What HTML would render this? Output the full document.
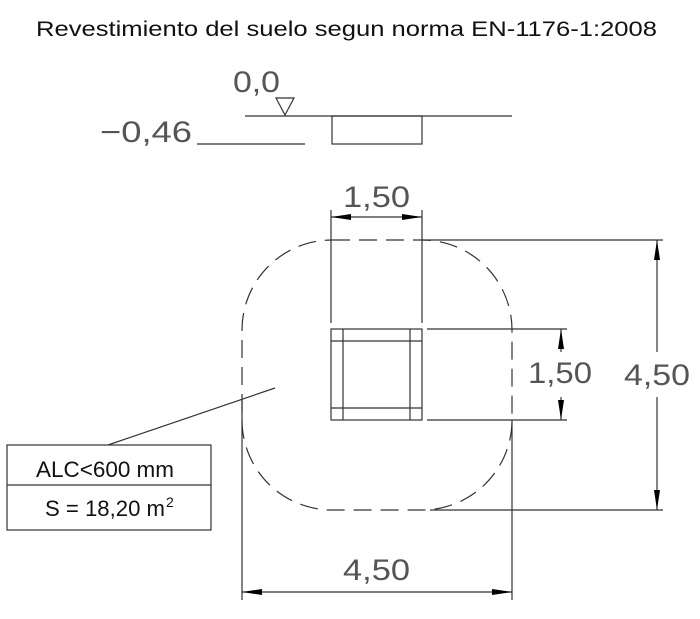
<!DOCTYPE html>
<html><head><meta charset="utf-8"><style>html,body{margin:0;padding:0;background:#fff}svg{display:block}</style></head>
<body>
<svg width="700" height="619" viewBox="0 0 700 619" xmlns="http://www.w3.org/2000/svg">
<defs>
<marker id="a" viewBox="0 0 20 6" refX="20" refY="3" markerWidth="20" markerHeight="6" markerUnits="userSpaceOnUse" orient="auto"><path d="M0,0 L20,3 L0,6 z" fill="#000"/></marker>
</defs>
<g font-family="Liberation Sans, sans-serif">
<text x="36" y="36" font-size="21" fill="#111" textLength="621" lengthAdjust="spacingAndGlyphs">Revestimiento del suelo segun norma EN-1176-1:2008</text>
</g>
<g fill="none" stroke="#333" stroke-width="1.2">
<line x1="245" y1="116" x2="512" y2="116"/>
<rect x="332" y="116" width="90" height="28"/>
<line x1="197" y1="144" x2="305" y2="144"/>
<path d="M276,98 L294,98 L285,115 Z"/>
<rect x="242" y="240" width="270" height="270" rx="90" ry="90" stroke-dasharray="18,9"/>
<rect x="331" y="329" width="91" height="91"/>
<line x1="343" y1="329" x2="343" y2="420"/>
<line x1="410" y1="329" x2="410" y2="420"/>
<line x1="331" y1="341" x2="422" y2="341"/>
<line x1="331" y1="408" x2="422" y2="408"/>
<line x1="331" y1="210" x2="331" y2="323"/>
<line x1="422" y1="210" x2="422" y2="323"/>
<line x1="376" y1="217" x2="331" y2="217" marker-end="url(#a)"/>
<line x1="376" y1="217" x2="422" y2="217" marker-end="url(#a)"/>
<line x1="422" y1="240" x2="663" y2="240"/>
<line x1="430" y1="510" x2="663" y2="510"/>
<line x1="657" y1="352" x2="657" y2="240" marker-end="url(#a)"/>
<line x1="657" y1="397" x2="657" y2="510" marker-end="url(#a)"/>
<line x1="427" y1="329" x2="567" y2="329"/>
<line x1="427" y1="420" x2="567" y2="420"/>
<line x1="561" y1="352" x2="561" y2="329" marker-end="url(#a)"/>
<line x1="561" y1="397" x2="561" y2="420" marker-end="url(#a)"/>
<line x1="242" y1="400" x2="242" y2="600"/>
<line x1="512" y1="420" x2="512" y2="600"/>
<line x1="377" y1="592" x2="242" y2="592" marker-end="url(#a)"/>
<line x1="377" y1="592" x2="512" y2="592" marker-end="url(#a)"/>
<line x1="108" y1="445" x2="275" y2="388"/>
<rect x="7" y="445" width="204" height="85"/>
<line x1="7" y1="485" x2="211" y2="485"/>
</g>
<g font-family="Liberation Sans, sans-serif" fill="#555" font-size="30">
<text x="233" y="92" textLength="47" lengthAdjust="spacingAndGlyphs">0,0</text>
<text x="100" y="142" textLength="92" lengthAdjust="spacingAndGlyphs">−0,46</text>
<text x="343" y="207" textLength="67" lengthAdjust="spacingAndGlyphs">1,50</text>
<text x="528" y="383" textLength="64" lengthAdjust="spacingAndGlyphs">1,50</text>
<text x="624" y="385" textLength="66" lengthAdjust="spacingAndGlyphs">4,50</text>
<text x="343" y="580" textLength="67" lengthAdjust="spacingAndGlyphs">4,50</text>
</g>
<g font-family="Liberation Sans, sans-serif" fill="#111" font-size="22">
<text x="36" y="477" textLength="138" lengthAdjust="spacingAndGlyphs">ALC&lt;600 mm</text>
<text x="45" y="516" textLength="120" lengthAdjust="spacingAndGlyphs">S = 18,20 m</text>
<text x="166" y="507" font-size="14">2</text>
</g>
</svg>
</body></html>
